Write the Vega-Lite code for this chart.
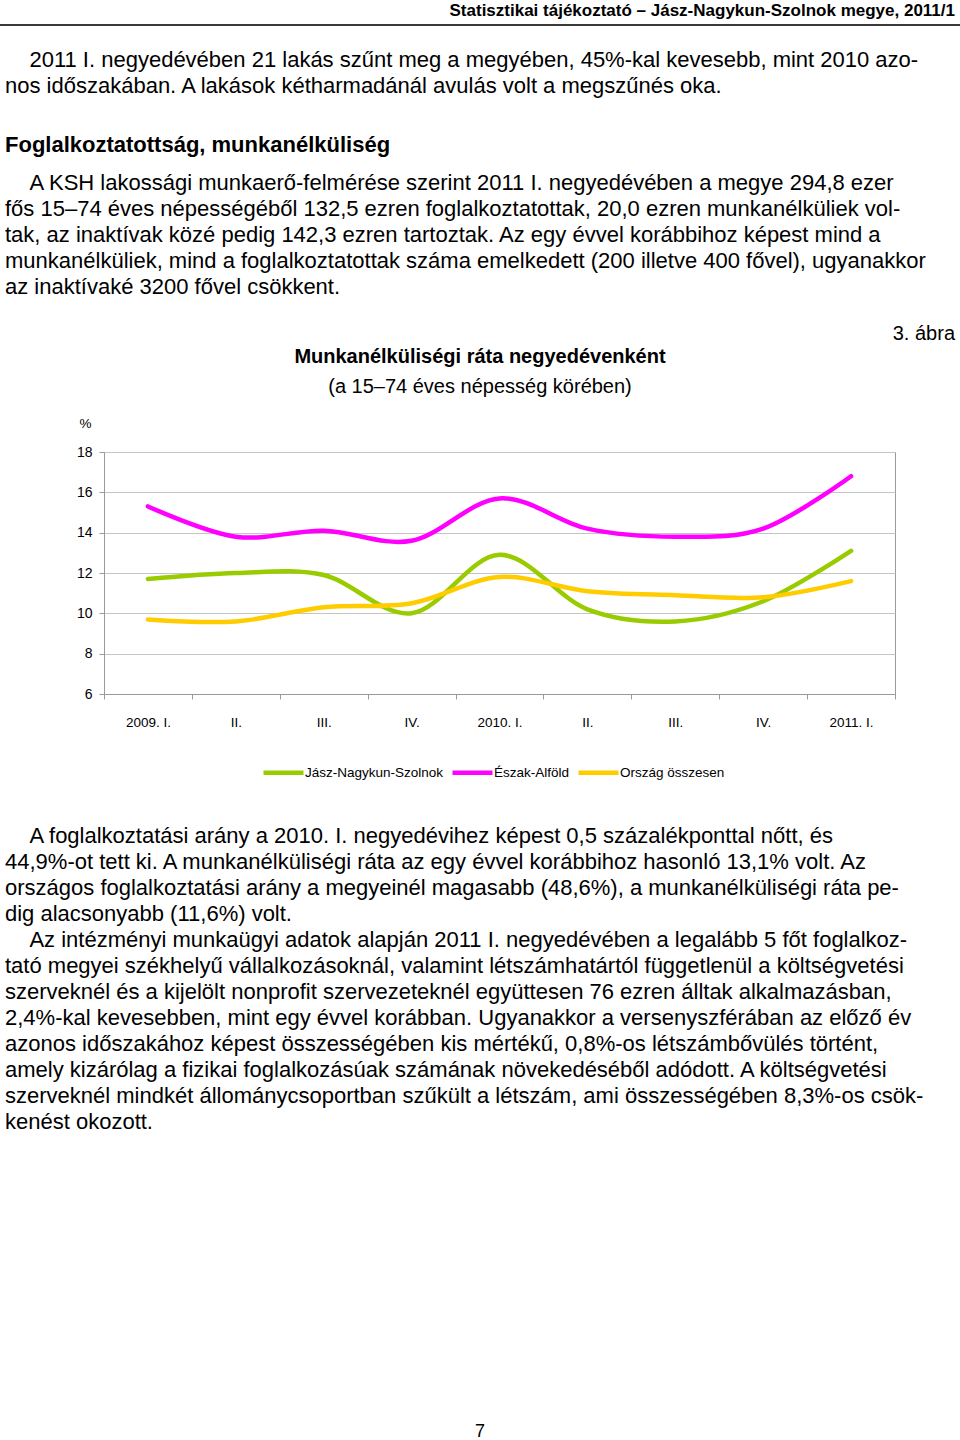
{
  "$schema": "https://vega.github.io/schema/vega-lite/v6.json",
  "autosize": {"type": "none"},
  "padding": {"left": 104, "top": 452, "right": 65, "bottom": 746},
  "width": 791,
  "height": 242,
  "background": "white",
  "view": {"stroke": "#9a9a9a", "strokeWidth": 1},
  "config": {
    "text": {"font": "Liberation Sans", "color": "#000000"},
    "axis": {"labelFont": "Liberation Sans", "titleFont": "Liberation Sans", "labelColor": "#000000", "titleColor": "#000000"},
    "legend": {"labelFont": "Liberation Sans", "labelColor": "#000000"}
  },
  "resolve": {"scale": {"x": "independent", "y": "independent"}},
  "layer": [
    {
      "data": {"values": [
        {"negyedev": "2009. I.", "terulet": "Jász-Nagykun-Szolnok", "rata": 11.7},
        {"negyedev": "2009. II.", "terulet": "Jász-Nagykun-Szolnok", "rata": 12.0},
        {"negyedev": "2009. III.", "terulet": "Jász-Nagykun-Szolnok", "rata": 11.9},
        {"negyedev": "2009. IV.", "terulet": "Jász-Nagykun-Szolnok", "rata": 10.0},
        {"negyedev": "2010. I.", "terulet": "Jász-Nagykun-Szolnok", "rata": 12.9},
        {"negyedev": "2010. II.", "terulet": "Jász-Nagykun-Szolnok", "rata": 10.2},
        {"negyedev": "2010. III.", "terulet": "Jász-Nagykun-Szolnok", "rata": 9.6},
        {"negyedev": "2010. IV.", "terulet": "Jász-Nagykun-Szolnok", "rata": 10.6},
        {"negyedev": "2011. I.", "terulet": "Jász-Nagykun-Szolnok", "rata": 13.1},
        {"negyedev": "2009. I.", "terulet": "Észak-Alföld", "rata": 15.3},
        {"negyedev": "2009. II.", "terulet": "Észak-Alföld", "rata": 13.8},
        {"negyedev": "2009. III.", "terulet": "Észak-Alföld", "rata": 14.1},
        {"negyedev": "2009. IV.", "terulet": "Észak-Alföld", "rata": 13.6},
        {"negyedev": "2010. I.", "terulet": "Észak-Alföld", "rata": 15.7},
        {"negyedev": "2010. II.", "terulet": "Észak-Alföld", "rata": 14.2},
        {"negyedev": "2010. III.", "terulet": "Észak-Alföld", "rata": 13.8},
        {"negyedev": "2010. IV.", "terulet": "Észak-Alföld", "rata": 14.2},
        {"negyedev": "2011. I.", "terulet": "Észak-Alföld", "rata": 16.8},
        {"negyedev": "2009. I.", "terulet": "Ország összesen", "rata": 9.7},
        {"negyedev": "2009. II.", "terulet": "Ország összesen", "rata": 9.6},
        {"negyedev": "2009. III.", "terulet": "Ország összesen", "rata": 10.3},
        {"negyedev": "2009. IV.", "terulet": "Ország összesen", "rata": 10.5},
        {"negyedev": "2010. I.", "terulet": "Ország összesen", "rata": 11.8},
        {"negyedev": "2010. II.", "terulet": "Ország összesen", "rata": 11.1},
        {"negyedev": "2010. III.", "terulet": "Ország összesen", "rata": 10.9},
        {"negyedev": "2010. IV.", "terulet": "Ország összesen", "rata": 10.8},
        {"negyedev": "2011. I.", "terulet": "Ország összesen", "rata": 11.6}
      ]},
      "mark": {"type": "line", "interpolate": "cardinal", "strokeWidth": 4.5, "strokeCap": "round", "strokeJoin": "round"},
      "encoding": {
        "x": {
          "field": "negyedev", "type": "ordinal", "sort": null, "bandPosition": 0.5,
          "scale": {"type": "band", "paddingInner": 0, "paddingOuter": 0},
          "axis": {"title": null, "labelAngle": 0, "tickBand": "extent", "tickSize": 5, "labelPadding": 16, "labelFontSize": 13.5, "domainColor": "#9a9a9a", "tickColor": "#9a9a9a", "grid": false,
            "labelExpr": "slice(datum.label, -3) == ' I.' ? datum.label : substring(datum.label, 6)"}
        },
        "y": {
          "field": "rata", "type": "quantitative",
          "scale": {"domain": [6, 18], "nice": false, "zero": false},
          "axis": {"title": "%", "titleAngle": 0, "titleAlign": "center", "titleBaseline": "middle", "titleX": -19, "titleY": -29, "titleFontSize": 13.5, "titleFontWeight": "normal",
            "values": [6, 8, 10, 12, 14, 16, 18], "tickSize": 5, "labelPadding": 7, "labelFontSize": 14,
            "domainColor": "#9a9a9a", "tickColor": "#9a9a9a", "grid": true, "gridColor": "#c4c4c4", "gridWidth": 1}
        },
        "color": {
          "field": "terulet", "type": "nominal",
          "scale": {"domain": ["Jász-Nagykun-Szolnok", "Észak-Alföld", "Ország összesen"], "range": ["#99cc00", "#ff00ff", "#ffcc00"]},
          "legend": {"orient": "none", "legendX": 157, "legendY": 298, "direction": "horizontal", "title": null, "symbolType": "stroke", "symbolSize": 1600, "symbolStrokeWidth": 4.5, "labelFontSize": 13.5, "labelOffset": -1, "columnPadding": -1}
        }
      }
    },
    {
      "data": {"values": [{"line": 0, "text": "Statisztikai tájékoztató – Jász-Nagykun-Szolnok megye, 2011/1"}]},
      "layer": [
        {
          "mark": {"type": "text", "align": "right", "baseline": "middle", "dx": -5, "fontSize": 17, "fontWeight": "bold"},
          "encoding": {
            "x": {"datum": "right", "type": "nominal", "scale": {"type": "point", "domain": ["left", "center", "right"], "padding": 0, "range": [-104, 856]}, "axis": null},
            "y": {"field": "line", "type": "quantitative", "scale": {"domain": [-0.4231, 54.9615], "range": [-452, 988], "nice": false, "zero": false}, "axis": null},
            "text": {"field": "text"}
          }
        },
        {
          "mark": {"type": "rule", "color": "#3a3a3a", "strokeWidth": 2},
          "encoding": {
            "x": {"datum": "left", "type": "nominal", "scale": {"type": "point", "domain": ["left", "center", "right"], "padding": 0, "range": [-104, 856]}, "axis": null},
            "x2": {"datum": "right"},
            "y": {"datum": 0.5385, "type": "quantitative", "scale": {"domain": [-0.4231, 54.9615], "range": [-452, 988], "nice": false, "zero": false}, "axis": null}
          }
        }
      ]
    },
    {
      "data": {"values": [
        {"line": 0, "text": "\u200b\u00a0\u00a0\u00a0\u00a02011 I. negyedévében 21 lakás szűnt meg a megyében, 45%-kal kevesebb, mint 2010 azo-"},
        {"line": 1, "text": "nos időszakában. A lakások kétharmadánál avulás volt a megszűnés oka."}
      ]},
      "mark": {"type": "text", "align": "left", "baseline": "middle", "dx": 5, "fontSize": 22},
      "encoding": {
        "x": {"datum": "left", "type": "nominal", "scale": {"type": "point", "domain": ["left", "center", "right"], "padding": 0, "range": [-104, 856]}, "axis": null},
        "y": {"field": "line", "type": "quantitative", "scale": {"domain": [-2.2885, 53.0961], "range": [-452, 988], "nice": false, "zero": false}, "axis": null},
        "text": {"field": "text"}
      }
    },
    {
      "data": {"values": [{"line": 0, "text": "Foglalkoztatottság, munkanélküliség"}]},
      "mark": {"type": "text", "align": "left", "baseline": "middle", "dx": 5, "fontSize": 22, "fontWeight": "bold"},
      "encoding": {
        "x": {"datum": "left", "type": "nominal", "scale": {"type": "point", "domain": ["left", "center", "right"], "padding": 0, "range": [-104, 856]}, "axis": null},
        "y": {"field": "line", "type": "quantitative", "scale": {"domain": [-5.5769, 49.8077], "range": [-452, 988], "nice": false, "zero": false}, "axis": null},
        "text": {"field": "text"}
      }
    },
    {
      "data": {"values": [
        {"line": 0, "text": "\u200b\u00a0\u00a0\u00a0\u00a0A KSH lakossági munkaerő-felmérése szerint 2011 I. negyedévében a megye 294,8 ezer"},
        {"line": 1, "text": "fős 15–74 éves népességéből 132,5 ezren foglalkoztatottak, 20,0 ezren munkanélküliek vol-"},
        {"line": 2, "text": "tak, az inaktívak közé pedig 142,3 ezren tartoztak. Az egy évvel korábbihoz képest mind a"},
        {"line": 3, "text": "munkanélküliek, mind a foglalkoztatottak száma emelkedett (200 illetve 400 fővel), ugyanakkor"},
        {"line": 4, "text": "az inaktívaké 3200 fővel csökkent."}
      ]},
      "mark": {"type": "text", "align": "left", "baseline": "middle", "dx": 5, "fontSize": 22},
      "encoding": {
        "x": {"datum": "left", "type": "nominal", "scale": {"type": "point", "domain": ["left", "center", "right"], "padding": 0, "range": [-104, 856]}, "axis": null},
        "y": {"field": "line", "type": "quantitative", "scale": {"domain": [-7.0385, 48.3461], "range": [-452, 988], "nice": false, "zero": false}, "axis": null},
        "text": {"field": "text"}
      }
    },
    {
      "data": {"values": [{"line": 0, "text": "3. ábra"}]},
      "mark": {"type": "text", "align": "right", "baseline": "middle", "dx": -5, "fontSize": 20},
      "encoding": {
        "x": {"datum": "right", "type": "nominal", "scale": {"type": "point", "domain": ["left", "center", "right"], "padding": 0, "range": [-104, 856]}, "axis": null},
        "y": {"field": "line", "type": "quantitative", "scale": {"domain": [-12.8462, 42.5384], "range": [-452, 988], "nice": false, "zero": false}, "axis": null},
        "text": {"field": "text"}
      }
    },
    {
      "data": {"values": [{"line": 0, "text": "Munkanélküliségi ráta negyedévenként"}]},
      "mark": {"type": "text", "align": "center", "baseline": "middle", "fontSize": 20, "fontWeight": "bold"},
      "encoding": {
        "x": {"datum": "center", "type": "nominal", "scale": {"type": "point", "domain": ["left", "center", "right"], "padding": 0, "range": [-104, 856]}, "axis": null},
        "y": {"field": "line", "type": "quantitative", "scale": {"domain": [-13.7308, 41.6538], "range": [-452, 988], "nice": false, "zero": false}, "axis": null},
        "text": {"field": "text"}
      }
    },
    {
      "data": {"values": [{"line": 0, "text": "(a 15–74 éves népesség körében)"}]},
      "mark": {"type": "text", "align": "center", "baseline": "middle", "fontSize": 20},
      "encoding": {
        "x": {"datum": "center", "type": "nominal", "scale": {"type": "point", "domain": ["left", "center", "right"], "padding": 0, "range": [-104, 856]}, "axis": null},
        "y": {"field": "line", "type": "quantitative", "scale": {"domain": [-14.8846, 40.5], "range": [-452, 988], "nice": false, "zero": false}, "axis": null},
        "text": {"field": "text"}
      }
    },
    {
      "data": {"values": [
        {"line": 0, "text": "\u200b\u00a0\u00a0\u00a0\u00a0A foglalkoztatási arány a 2010. I. negyedévihez képest 0,5 százalékponttal nőtt, és"},
        {"line": 1, "text": "44,9%-ot tett ki. A munkanélküliségi ráta az egy évvel korábbihoz hasonló 13,1% volt. Az"},
        {"line": 2, "text": "országos foglalkoztatási arány a megyeinél magasabb (48,6%), a munkanélküliségi ráta pe-"},
        {"line": 3, "text": "dig alacsonyabb (11,6%) volt."},
        {"line": 4, "text": "\u200b\u00a0\u00a0\u00a0\u00a0Az intézményi munkaügyi adatok alapján 2011 I. negyedévében a legalább 5 főt foglalkoz-"},
        {"line": 5, "text": "tató megyei székhelyű vállalkozásoknál, valamint létszámhatártól függetlenül a költségvetési"},
        {"line": 6, "text": "szerveknél és a kijelölt nonprofit szervezeteknél együttesen 76 ezren álltak alkalmazásban,"},
        {"line": 7, "text": "2,4%-kal kevesebben, mint egy évvel korábban. Ugyanakkor a versenyszférában az előző év"},
        {"line": 8, "text": "azonos időszakához képest összességében kis mértékű, 0,8%-os létszámbővülés történt,"},
        {"line": 9, "text": "amely kizárólag a fizikai foglalkozásúak számának növekedéséből adódott. A költségvetési"},
        {"line": 10, "text": "szerveknél mindkét állománycsoportban szűkült a létszám, ami összességében 8,3%-os csök-"},
        {"line": 11, "text": "kenést okozott."}
      ]},
      "mark": {"type": "text", "align": "left", "baseline": "middle", "dx": 5, "fontSize": 22},
      "encoding": {
        "x": {"datum": "left", "type": "nominal", "scale": {"type": "point", "domain": ["left", "center", "right"], "padding": 0, "range": [-104, 856]}, "axis": null},
        "y": {"field": "line", "type": "quantitative", "scale": {"domain": [-32.1538, 23.2308], "range": [-452, 988], "nice": false, "zero": false}, "axis": null},
        "text": {"field": "text"}
      }
    },
    {
      "data": {"values": [{"line": 0, "text": "7"}]},
      "mark": {"type": "text", "align": "center", "baseline": "middle", "fontSize": 18},
      "encoding": {
        "x": {"datum": "center", "type": "nominal", "scale": {"type": "point", "domain": ["left", "center", "right"], "padding": 0, "range": [-104, 856]}, "axis": null},
        "y": {"field": "line", "type": "quantitative", "scale": {"domain": [-55.0769, 0.3077], "range": [-452, 988], "nice": false, "zero": false}, "axis": null},
        "text": {"field": "text"}
      }
    }
  ]
}
